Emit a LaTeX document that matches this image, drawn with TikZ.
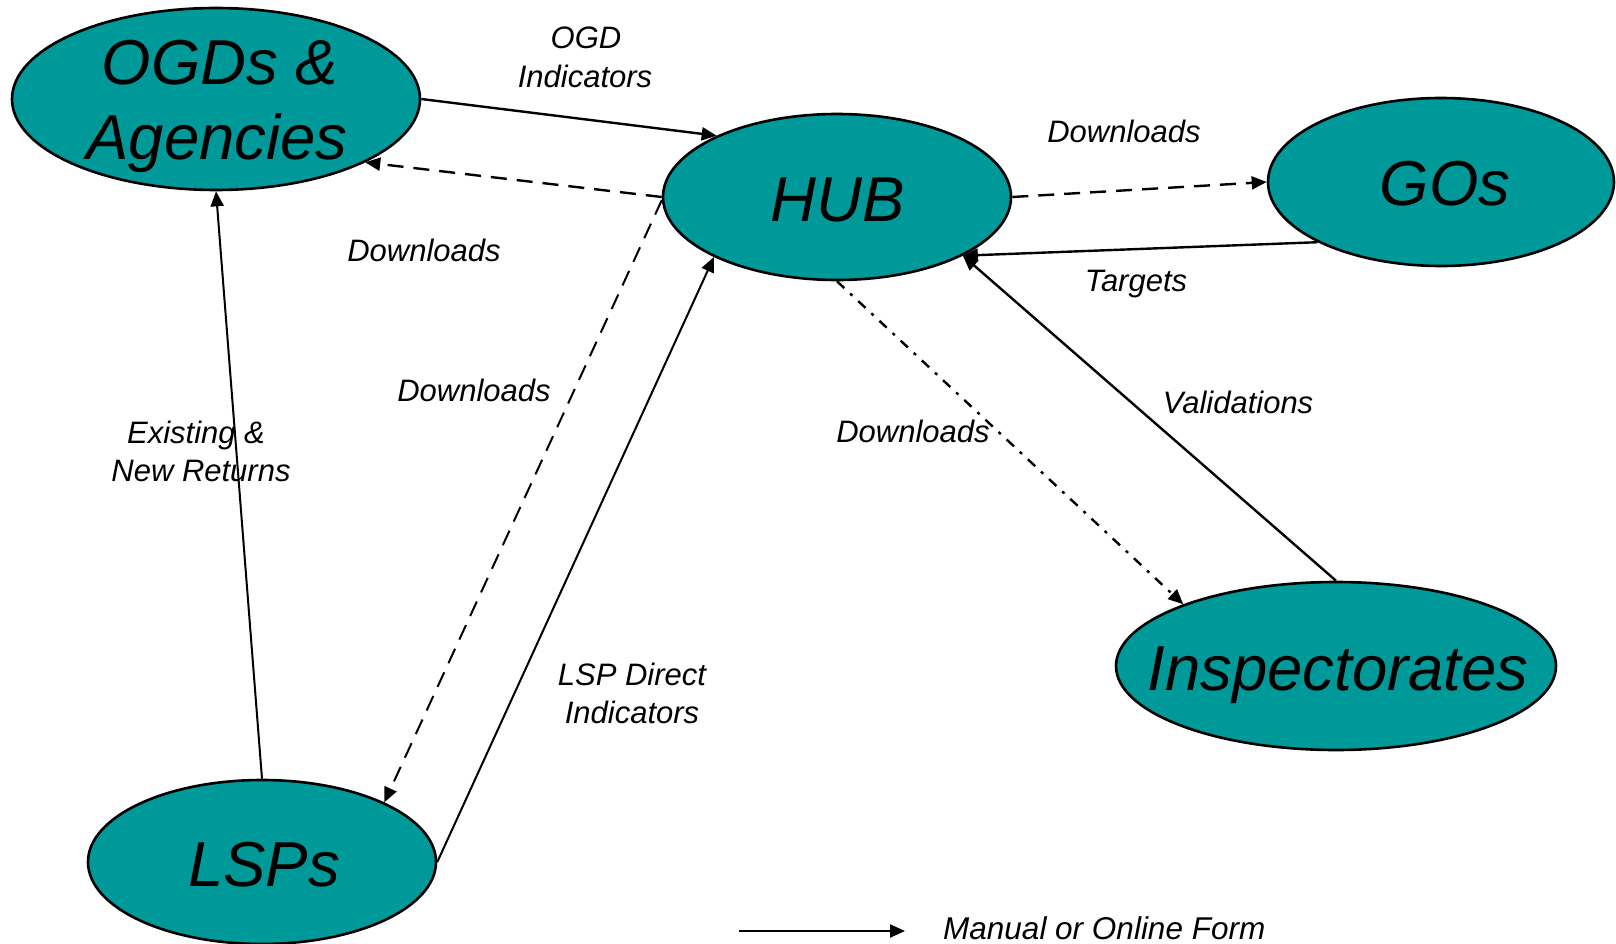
\documentclass[tikz,border=0pt]{standalone}
\usepackage{fontspec}
\setmainfont{Liberation Sans}
\usetikzlibrary{shapes.geometric,arrows.meta}
\definecolor{teal99}{RGB}{0,153,153}
\begin{document}
\begin{tikzpicture}[x=1pt,y=-1pt,
  blob/.style={ellipse,draw=black,line width=2.6pt,fill=teal99,inner sep=0pt},
  bigtext/.style={anchor=base,inner sep=0pt,font=\fontsize{63.5}{75}\selectfont\itshape},
  smalltext/.style={anchor=base,inner sep=0pt,font=\fontsize{31}{38}\selectfont\itshape},
  tip/.style={-{Triangle[length=15pt,width=13pt]}},
  conn/.style={tip,line width=2.4pt},
  dashconn/.style={conn,dash pattern=on 16pt off 10pt},
  dotconn/.style={conn,dash pattern=on 10pt off 8pt on 3pt off 8pt}
]
\useasboundingbox (0,0) rectangle (1616,944);

% ellipses
\node[blob,minimum width=408pt,minimum height=182pt] (ogd) at (216,99) {};
\node[blob,minimum width=348pt,minimum height=166pt] (hub) at (837,197) {};
\node[blob,minimum width=346pt,minimum height=168pt] (gos) at (1441,182) {};
\node[blob,minimum width=440pt,minimum height=168pt] (insp) at (1336,666) {};
\node[blob,minimum width=348pt,minimum height=164pt] (lsp) at (262,862) {};

% node texts
\node[bigtext] (ogdA) at (220,85) {OGDs \&};
\node[bigtext] (ogdB) at (217,160) {Agencies};
\node[bigtext] (hubT) at (838,222) {HUB};
\node[bigtext] (gosT) at (1445,206) {GOs};
\node[bigtext] (inspT) at (1338,690) {Inspectorates};
\node[bigtext] (lspT) at (264,886) {LSPs};

% connectors
\draw[conn] (ogd.east) -- (hub.153.6);
\draw[dashconn] (hub.180) -- (ogd.-23.2);
\draw[dashconn] (hub.east) -- (gos.west);
\draw[conn] (gos.206.2) -- (hub.-25.3);
\draw[conn] (insp.north) -- (hub.-25.3);
\draw[dotconn] (hub.south) -- (insp.158.6);
\draw[dashconn,line width=2pt] (hub.181) -- (lsp.26);
\draw[conn,line width=2pt] (lsp.east) -- (hub.206.6);
\draw[conn,line width=2pt] (lsp.north) -- (ogd.south);

% labels
\node[smalltext] (l1a) at (586,49) {OGD};
\node[smalltext] (l1b) at (585,88) {Indicators};
\node[smalltext] (l2) at (1124,143) {Downloads};
\node[smalltext] (l3) at (424,261) {Downloads};
\node[smalltext] (l4) at (474,401) {Downloads};
\node[smalltext] (l5a) at (196,443) {Existing \&};
\node[smalltext] (l5b) at (201,481) {New Returns};
\node[smalltext] (l6) at (913,442) {Downloads};
\node[smalltext] (l7) at (1238,413) {Validations};
\node[smalltext] (l8) at (1136,291) {Targets};
\node[smalltext] (l9a) at (632,685) {LSP Direct};
\node[smalltext] (l9b) at (632,723) {Indicators};

% legend
\coordinate (legA) at (739,931);
\coordinate (legB) at (905,931);
\draw[conn] (legA) -- (legB);
\node[smalltext,anchor=base west,font=\fontsize{31.5}{38}\selectfont\itshape] (legT) at (943,939) {Manual or Online Form};
\end{tikzpicture}
\end{document}
